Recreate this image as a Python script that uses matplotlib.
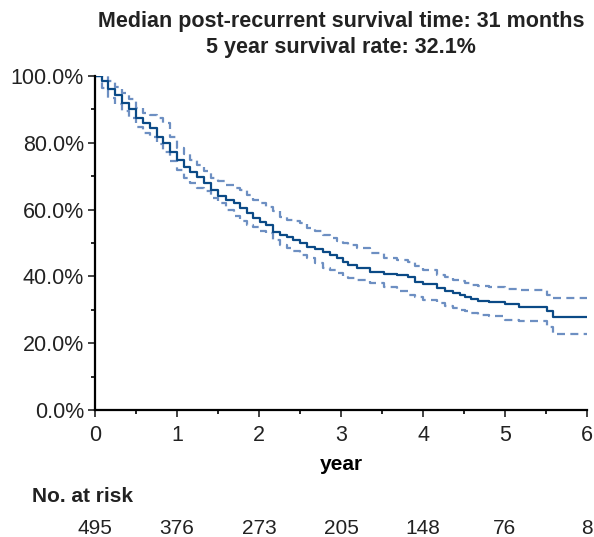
import matplotlib
matplotlib.use("Agg")
import matplotlib.pyplot as plt
from matplotlib.ticker import MultipleLocator, FuncFormatter

plt.rcParams['font.family'] = ['Liberation Sans', 'DejaVu Sans']

# Kaplan-Meier step points (years, %)
step_years = [0.00, 0.08, 0.16, 0.24, 0.33, 0.42, 0.50, 0.58, 0.67, 0.75,
              0.83, 0.91, 1.00, 1.08, 1.16, 1.24, 1.33, 1.42, 1.50, 1.60,
              1.69, 1.77, 1.85, 1.93, 2.01, 2.09, 2.17, 2.26, 2.34, 2.42,
              2.50, 2.58, 2.68, 2.78, 2.87, 2.95, 3.02, 3.09, 3.19, 3.35,
              3.52, 3.68, 3.82, 3.90, 4.00, 4.17, 4.27, 4.37, 4.45, 4.51,
              4.59, 4.67, 4.80, 5.00, 5.17, 5.51, 5.58, 6.00]
survival = [100.0, 98.5, 96.0, 94.3, 92.0, 90.0, 87.5, 86.0, 84.3, 81.8,
            79.8, 77.3, 75.0, 72.8, 71.3, 69.9, 68.0, 66.0, 64.0, 62.9,
            61.9, 60.4, 58.9, 57.4, 56.4, 55.4, 53.4, 52.4, 51.9, 50.9,
            49.9, 48.9, 48.1, 47.4, 46.4, 45.4, 44.4, 43.4, 42.4, 41.4,
            40.6, 40.4, 39.7, 38.4, 37.6, 36.4, 35.7, 34.9, 34.4, 33.7,
            33.2, 32.7, 32.4, 31.7, 30.9, 29.5, 27.9, 27.9]
upper_ci = [100.0, 100.0, 98.5, 96.8, 95.0, 93.0, 90.5, 89.0, 88.3, 87.5,
            86.0, 81.8, 78.5, 76.5, 75.0, 73.5, 71.5, 69.5, 68.5, 67.4,
            66.5, 65.9, 64.5, 62.9, 62.0, 60.9, 59.5, 57.9, 56.9, 56.5,
            55.9, 54.5, 53.5, 52.5, 51.5, 50.5, 50.0, 49.4, 48.5, 46.9,
            45.5, 44.9, 44.4, 43.0, 41.9, 40.5, 39.9, 39.0, 38.5, 37.9,
            37.5, 37.0, 36.7, 36.2, 35.9, 34.4, 33.6, 33.6]
lower_ci = [100.0, 96.5, 93.5, 91.5, 89.5, 87.5, 84.8, 83.0, 81.8, 79.5,
            77.3, 74.5, 72.0, 69.5, 68.0, 66.5, 65.5, 63.5, 62.0, 60.0,
            58.0, 56.5, 55.5, 54.9, 53.5, 52.9, 51.0, 49.5, 48.4, 47.5,
            46.5, 45.4, 44.0, 42.5, 41.9, 41.0, 40.0, 39.5, 39.0, 38.0,
            36.9, 35.5, 34.5, 33.9, 33.0, 31.9, 31.0, 30.5, 29.9, 29.5,
            29.0, 28.4, 28.0, 27.0, 26.7, 24.8, 22.7, 22.7]

risk_years = [0, 1, 2, 3, 4, 5, 6]
at_risk = [495, 376, 273, 205, 148, 76, 8]

title_lines = ["Median post-recurrent survival time: 31 months",
               "5 year survival rate: 32.1%"]

W, H = 594, 537
fig = plt.figure(figsize=(W / 100, H / 100), dpi=100)
ax = fig.add_axes([95 / W, 1 - 410 / H, 492 / W, 334 / H])

dark = '#0b4a86'
light = '#6d8fc2'
ax.step(step_years, upper_ci, where='post', color=light, lw=1.6,
        dashes=(3.6, 2.4))
ax.step(step_years, lower_ci, where='post', color=light, lw=1.6,
        dashes=(3.6, 2.4))
ax.step(step_years, survival, where='post', color=dark, lw=1.6)

ax.set_xlim(0, 6)
ax.set_ylim(0, 100)
ax.spines['top'].set_visible(False)
ax.spines['right'].set_visible(False)
ax.spines['left'].set_linewidth(1.6)
ax.spines['bottom'].set_linewidth(1.6)

ax.xaxis.set_major_locator(MultipleLocator(1))
ax.xaxis.set_minor_locator(MultipleLocator(0.5))
ax.yaxis.set_major_locator(MultipleLocator(20))
ax.yaxis.set_minor_locator(MultipleLocator(10))
ax.yaxis.set_major_formatter(FuncFormatter(lambda v, p: f"{v:.1f}%"))
ax.tick_params(which='major', length=5, width=1.2, labelsize=15.5, colors='#222222', pad=6)
ax.tick_params(which='minor', length=3, width=1.2)
ax.tick_params(axis='y', which='major', pad=3)

ax.set_xlabel("year", fontsize=15, fontweight='bold', labelpad=6)

# title centred over the plot area
xc = (95 + 587) / 2 / W
fig.text(xc, 1 - 21 / H, title_lines[0], fontsize=15.5, fontweight='bold',
         ha='center', va='center', color='#222222')
fig.text(xc, 1 - 48 / H, title_lines[1], fontsize=15.5, fontweight='bold',
         ha='center', va='center', color='#222222')

# number at risk table
fig.text(32 / W, 1 - 497 / H, "No. at risk", fontsize=15, fontweight='bold',
         va='center', ha='left', color='#222222')
for yr, n in zip(risk_years, at_risk):
    xd = ax.transData.transform((yr, 0))[0]
    xf = fig.transFigure.inverted().transform((xd, 0))[0]
    fig.text(xf, 1 - 528 / H, str(n), fontsize=15, ha='center', va='center',
             color='#222222')

fig.savefig("out.png", dpi=100)
